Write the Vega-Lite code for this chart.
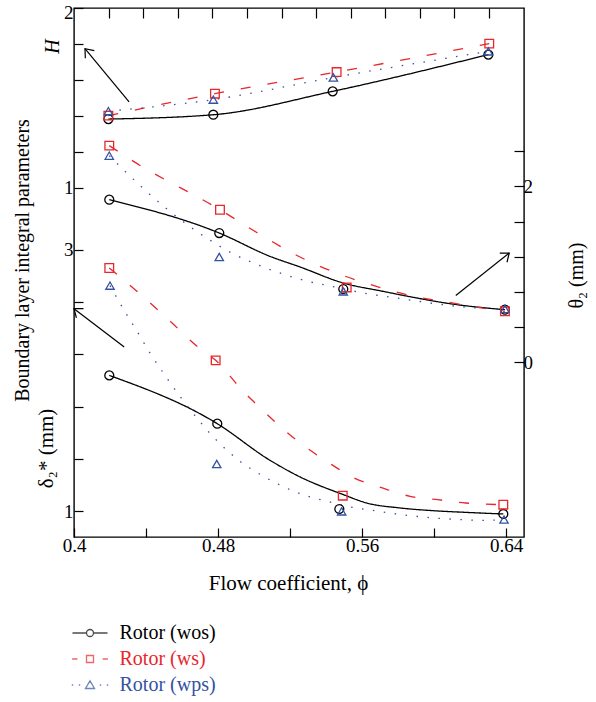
{
  "$schema": "https://vega.github.io/schema/vega-lite/v6.json",
  "width": 450,
  "height": 529,
  "autosize": "none",
  "padding": {"left": 74, "top": 8, "right": 72, "bottom": 165},
  "background": "white",
  "config": {
    "font": "Liberation Serif",
    "view": {"stroke": "#000000", "strokeWidth": 1.4},
    "axis": {"domain": false, "grid": false, "tickColor": "#000000", "tickWidth": 1.2, "labelColor": "#000000", "titleColor": "#000000", "labelFont": "Liberation Serif", "titleFont": "Liberation Serif", "labelFontSize": 19, "titleFontSize": 20, "titleFontWeight": "normal"},
    "legend": {"labelFont": "Liberation Serif"}
  },
  "datasets": {
    "pts": [
      {"p": "H", "s": "Rotor (wos)", "x": 0.4191, "y": 1.383},
      {"p": "H", "s": "Rotor (wos)", "x": 0.4774, "y": 1.407},
      {"p": "H", "s": "Rotor (wos)", "x": 0.5437, "y": 1.537},
      {"p": "H", "s": "Rotor (wos)", "x": 0.6302, "y": 1.741},
      {"p": "H", "s": "Rotor (ws)", "x": 0.4191, "y": 1.402},
      {"p": "H", "s": "Rotor (ws)", "x": 0.4783, "y": 1.524},
      {"p": "H", "s": "Rotor (ws)", "x": 0.5459, "y": 1.644},
      {"p": "H", "s": "Rotor (ws)", "x": 0.6307, "y": 1.802},
      {"p": "H", "s": "Rotor (wps)", "x": 0.4191, "y": 1.427},
      {"p": "H", "s": "Rotor (wps)", "x": 0.4774, "y": 1.491},
      {"p": "H", "s": "Rotor (wps)", "x": 0.5441, "y": 1.614},
      {"p": "H", "s": "Rotor (wps)", "x": 0.6302, "y": 1.759},
      {"p": "theta", "s": "Rotor (wos)", "x": 0.4196, "y": 1.849},
      {"p": "theta", "s": "Rotor (wos)", "x": 0.4807, "y": 1.470},
      {"p": "theta", "s": "Rotor (wos)", "x": 0.5496, "y": 0.834},
      {"p": "theta", "s": "Rotor (wos)", "x": 0.6394, "y": 0.599},
      {"p": "theta", "s": "Rotor (ws)", "x": 0.4196, "y": 2.463},
      {"p": "theta", "s": "Rotor (ws)", "x": 0.4811, "y": 1.735},
      {"p": "theta", "s": "Rotor (ws)", "x": 0.5515, "y": 0.852},
      {"p": "theta", "s": "Rotor (ws)", "x": 0.6394, "y": 0.580},
      {"p": "theta", "s": "Rotor (wps)", "x": 0.4196, "y": 2.349},
      {"p": "theta", "s": "Rotor (wps)", "x": 0.4807, "y": 1.198},
      {"p": "theta", "s": "Rotor (wps)", "x": 0.5496, "y": 0.807},
      {"p": "theta", "s": "Rotor (wps)", "x": 0.6394, "y": 0.607},
      {"p": "delta", "s": "Rotor (wos)", "x": 0.4196, "y": 2.039},
      {"p": "delta", "s": "Rotor (wos)", "x": 0.4796, "y": 1.670},
      {"p": "delta", "s": "Rotor (wos)", "x": 0.5474, "y": 1.018},
      {"p": "delta", "s": "Rotor (wos)", "x": 0.6385, "y": 0.980},
      {"p": "delta", "s": "Rotor (ws)", "x": 0.4196, "y": 2.860},
      {"p": "delta", "s": "Rotor (ws)", "x": 0.4787, "y": 2.154},
      {"p": "delta", "s": "Rotor (ws)", "x": 0.5493, "y": 1.120},
      {"p": "delta", "s": "Rotor (ws)", "x": 0.6385, "y": 1.051},
      {"p": "delta", "s": "Rotor (wps)", "x": 0.42, "y": 2.725},
      {"p": "delta", "s": "Rotor (wps)", "x": 0.4793, "y": 1.362},
      {"p": "delta", "s": "Rotor (wps)", "x": 0.5487, "y": 1.000},
      {"p": "delta", "s": "Rotor (wps)", "x": 0.6389, "y": 0.937}
    ],
    "curves": [
      {"p": "H", "s": "Rotor (wos)", "x": 0.4191, "y": 1.383},
      {"p": "H", "s": "Rotor (wos)", "x": 0.4774, "y": 1.407},
      {"p": "H", "s": "Rotor (wos)", "x": 0.5437, "y": 1.537},
      {"p": "H", "s": "Rotor (wos)", "x": 0.6302, "y": 1.741},
      {"p": "H", "s": "Rotor (ws)", "x": 0.4191, "y": 1.402},
      {"p": "H", "s": "Rotor (ws)", "x": 0.4783, "y": 1.524},
      {"p": "H", "s": "Rotor (ws)", "x": 0.5459, "y": 1.644},
      {"p": "H", "s": "Rotor (ws)", "x": 0.6307, "y": 1.802},
      {"p": "H", "s": "Rotor (wps)", "x": 0.4191, "y": 1.427},
      {"p": "H", "s": "Rotor (wps)", "x": 0.4774, "y": 1.491},
      {"p": "H", "s": "Rotor (wps)", "x": 0.5441, "y": 1.614},
      {"p": "H", "s": "Rotor (wps)", "x": 0.6302, "y": 1.759},
      {"p": "theta", "s": "Rotor (wos)", "x": 0.4196, "y": 1.849},
      {"p": "theta", "s": "Rotor (wos)", "x": 0.4807, "y": 1.470},
      {"p": "theta", "s": "Rotor (wos)", "x": 0.5089, "y": 1.205},
      {"p": "theta", "s": "Rotor (wos)", "x": 0.5256, "y": 1.084},
      {"p": "theta", "s": "Rotor (wos)", "x": 0.5496, "y": 0.902},
      {"p": "theta", "s": "Rotor (wos)", "x": 0.5718, "y": 0.807},
      {"p": "theta", "s": "Rotor (wos)", "x": 0.5904, "y": 0.732},
      {"p": "theta", "s": "Rotor (wos)", "x": 0.6089, "y": 0.667},
      {"p": "theta", "s": "Rotor (wos)", "x": 0.6394, "y": 0.599},
      {"p": "theta", "s": "Rotor (ws)", "x": 0.4196, "y": 2.463},
      {"p": "theta", "s": "Rotor (ws)", "x": 0.4333, "y": 2.281},
      {"p": "theta", "s": "Rotor (ws)", "x": 0.4811, "y": 1.735},
      {"p": "theta", "s": "Rotor (ws)", "x": 0.5011, "y": 1.482},
      {"p": "theta", "s": "Rotor (ws)", "x": 0.5267, "y": 1.186},
      {"p": "theta", "s": "Rotor (ws)", "x": 0.5444, "y": 1.027},
      {"p": "theta", "s": "Rotor (ws)", "x": 0.5600, "y": 0.914},
      {"p": "theta", "s": "Rotor (ws)", "x": 0.5756, "y": 0.820},
      {"p": "theta", "s": "Rotor (ws)", "x": 0.5911, "y": 0.741},
      {"p": "theta", "s": "Rotor (ws)", "x": 0.6067, "y": 0.688},
      {"p": "theta", "s": "Rotor (ws)", "x": 0.6211, "y": 0.636},
      {"p": "theta", "s": "Rotor (ws)", "x": 0.6394, "y": 0.580},
      {"p": "theta", "s": "Rotor (wps)", "x": 0.4196, "y": 2.349},
      {"p": "theta", "s": "Rotor (wps)", "x": 0.4261, "y": 2.216},
      {"p": "theta", "s": "Rotor (wps)", "x": 0.4382, "y": 1.982},
      {"p": "theta", "s": "Rotor (wps)", "x": 0.4506, "y": 1.761},
      {"p": "theta", "s": "Rotor (wps)", "x": 0.4629, "y": 1.565},
      {"p": "theta", "s": "Rotor (wps)", "x": 0.4752, "y": 1.394},
      {"p": "theta", "s": "Rotor (wps)", "x": 0.4876, "y": 1.243},
      {"p": "theta", "s": "Rotor (wps)", "x": 0.4996, "y": 1.130},
      {"p": "theta", "s": "Rotor (wps)", "x": 0.5057, "y": 1.080},
      {"p": "theta", "s": "Rotor (wps)", "x": 0.5302, "y": 0.920},
      {"p": "theta", "s": "Rotor (wps)", "x": 0.5432, "y": 0.864},
      {"p": "theta", "s": "Rotor (wps)", "x": 0.5607, "y": 0.789},
      {"p": "theta", "s": "Rotor (wps)", "x": 0.5793, "y": 0.732},
      {"p": "theta", "s": "Rotor (wps)", "x": 0.5978, "y": 0.675},
      {"p": "theta", "s": "Rotor (wps)", "x": 0.6163, "y": 0.630},
      {"p": "theta", "s": "Rotor (wps)", "x": 0.6394, "y": 0.607},
      {"p": "delta", "s": "Rotor (wos)", "x": 0.4196, "y": 2.039},
      {"p": "delta", "s": "Rotor (wos)", "x": 0.4796, "y": 1.670},
      {"p": "delta", "s": "Rotor (wos)", "x": 0.5089, "y": 1.390},
      {"p": "delta", "s": "Rotor (wos)", "x": 0.5256, "y": 1.263},
      {"p": "delta", "s": "Rotor (wos)", "x": 0.5496, "y": 1.128},
      {"p": "delta", "s": "Rotor (wos)", "x": 0.5626, "y": 1.064},
      {"p": "delta", "s": "Rotor (wos)", "x": 0.5811, "y": 1.026},
      {"p": "delta", "s": "Rotor (wos)", "x": 0.5996, "y": 1.005},
      {"p": "delta", "s": "Rotor (wos)", "x": 0.6182, "y": 0.992},
      {"p": "delta", "s": "Rotor (wos)", "x": 0.6385, "y": 0.980},
      {"p": "delta", "s": "Rotor (ws)", "x": 0.4196, "y": 2.860},
      {"p": "delta", "s": "Rotor (ws)", "x": 0.4385, "y": 2.639},
      {"p": "delta", "s": "Rotor (ws)", "x": 0.4539, "y": 2.447},
      {"p": "delta", "s": "Rotor (ws)", "x": 0.4694, "y": 2.249},
      {"p": "delta", "s": "Rotor (ws)", "x": 0.4787, "y": 2.154},
      {"p": "delta", "s": "Rotor (ws)", "x": 0.4944, "y": 1.912},
      {"p": "delta", "s": "Rotor (ws)", "x": 0.4996, "y": 1.841},
      {"p": "delta", "s": "Rotor (ws)", "x": 0.5256, "y": 1.523},
      {"p": "delta", "s": "Rotor (ws)", "x": 0.5413, "y": 1.374},
      {"p": "delta", "s": "Rotor (ws)", "x": 0.5557, "y": 1.255},
      {"p": "delta", "s": "Rotor (ws)", "x": 0.5713, "y": 1.179},
      {"p": "delta", "s": "Rotor (ws)", "x": 0.5867, "y": 1.115},
      {"p": "delta", "s": "Rotor (ws)", "x": 0.6021, "y": 1.089},
      {"p": "delta", "s": "Rotor (ws)", "x": 0.6176, "y": 1.064},
      {"p": "delta", "s": "Rotor (ws)", "x": 0.6385, "y": 1.051},
      {"p": "delta", "s": "Rotor (wps)", "x": 0.42, "y": 2.725},
      {"p": "delta", "s": "Rotor (wps)", "x": 0.4274, "y": 2.547},
      {"p": "delta", "s": "Rotor (wps)", "x": 0.4348, "y": 2.381},
      {"p": "delta", "s": "Rotor (wps)", "x": 0.4422, "y": 2.211},
      {"p": "delta", "s": "Rotor (wps)", "x": 0.4506, "y": 2.039},
      {"p": "delta", "s": "Rotor (wps)", "x": 0.4593, "y": 1.871},
      {"p": "delta", "s": "Rotor (wps)", "x": 0.4687, "y": 1.706},
      {"p": "delta", "s": "Rotor (wps)", "x": 0.4798, "y": 1.535},
      {"p": "delta", "s": "Rotor (wps)", "x": 0.4918, "y": 1.387},
      {"p": "delta", "s": "Rotor (wps)", "x": 0.5046, "y": 1.273},
      {"p": "delta", "s": "Rotor (wps)", "x": 0.5289, "y": 1.120},
      {"p": "delta", "s": "Rotor (wps)", "x": 0.5409, "y": 1.076},
      {"p": "delta", "s": "Rotor (wps)", "x": 0.5533, "y": 1.034},
      {"p": "delta", "s": "Rotor (wps)", "x": 0.5656, "y": 1.008},
      {"p": "delta", "s": "Rotor (wps)", "x": 0.5779, "y": 0.982},
      {"p": "delta", "s": "Rotor (wps)", "x": 0.5902, "y": 0.962},
      {"p": "delta", "s": "Rotor (wps)", "x": 0.6024, "y": 0.947},
      {"p": "delta", "s": "Rotor (wps)", "x": 0.6148, "y": 0.937},
      {"p": "delta", "s": "Rotor (wps)", "x": 0.6271, "y": 0.931},
      {"p": "delta", "s": "Rotor (wps)", "x": 0.6389, "y": 0.937}
    ],
    "arrows": [
      {"p": "H", "x": 0.4061, "y": 1.774, "x2": 0.4306, "y2": 1.479},
      {"p": "theta", "x": 0.6418, "y": 1.243, "x2": 0.6121, "y2": 0.761},
      {"p": "delta", "x": 0.4, "y": 2.549, "x2": 0.4279, "y2": 2.256}
    ]
  },
  "layer": [
    {
      "encoding": {
        "x": {"field": "x", "type": "quantitative", "scale": {"domain": [0.4, 0.65], "nice": false, "zero": false}, "axis": null},
        "y": {"field": "y", "type": "quantitative", "scale": {"domain": [-0.939, 2], "nice": false, "zero": false},
          "axis": {"orient": "left", "values": [1, 1.2, 1.4, 1.6, 1.8, 2], "labelExpr": "datum.value == 1 ? '1' : datum.value == 2 ? '2' : ''", "tickSize": -9, "labelPadding": 10, "labelOverlap": false, "labelFlush": true, "labelFlushOffset": 5, "title": "H", "titleFontStyle": "italic", "titleAngle": -90, "titleX": -22, "titleY": 38, "titleAlign": "center", "titleBaseline": "middle"}}
      },
      "layer": [
        {"data": {"name": "curves"}, "transform": [{"filter": "datum.p == 'H'"}],
          "mark": {"type": "line", "interpolate": "monotone", "strokeWidth": 1.3},
          "encoding": {
            "color": {"field": "s", "type": "nominal", "scale": {"domain": ["Rotor (wos)", "Rotor (ws)", "Rotor (wps)"], "range": ["#000000", "#e8262b", "#3352a4"]}, "legend": null},
            "strokeDash": {"field": "s", "type": "nominal", "scale": {"domain": ["Rotor (wos)", "Rotor (ws)", "Rotor (wps)"], "range": [[1, 0], [10, 17], [1.5, 9.5]]}, "legend": null}
          }},
        {"data": {"name": "pts"}, "transform": [{"filter": "datum.p == 'H'"}],
          "mark": {"type": "point", "filled": false, "strokeWidth": 1.3, "opacity": 1},
          "encoding": {
            "color": {"field": "s", "type": "nominal", "scale": {"domain": ["Rotor (wos)", "Rotor (ws)", "Rotor (wps)"], "range": ["#000000", "#e8262b", "#3352a4"]}, "legend": null},
            "shape": {"field": "s", "type": "nominal", "scale": {"domain": ["Rotor (wos)", "Rotor (ws)", "Rotor (wps)"], "range": ["circle", "square", "triangle-up"]}, "legend": null},
            "size": {"field": "s", "type": "nominal", "scale": {"domain": ["Rotor (wos)", "Rotor (ws)", "Rotor (wps)"], "range": [80, 70, 132]}, "legend": null}
          }},
        {"data": {"name": "arrows"}, "transform": [{"filter": "datum.p == 'H'"}],
          "mark": {"type": "rule", "color": "#000000", "strokeWidth": 1.2},
          "encoding": {"x2": {"field": "x2"}, "y2": {"field": "y2"}}},
        {"data": {"name": "arrows"}, "transform": [{"filter": "datum.p == 'H'"}],
          "mark": {"type": "point", "shape": "M-0.78,1L0,0L0.78,1", "size": 225, "angle": -40.2, "filled": false, "color": "#000000", "strokeWidth": 1.2, "opacity": 1},
          "encoding": {}}
      ]
    },
    {
      "encoding": {
        "x": {"field": "x", "type": "quantitative", "scale": {"domain": [0.4, 0.65], "nice": false, "zero": false}, "axis": null},
        "y": {"field": "y", "type": "quantitative", "scale": {"domain": [-1.984, 4.027], "nice": false, "zero": false},
          "axis": {"orient": "right", "values": [0, 0.4, 0.8, 1.2, 1.6, 2, 2.4], "labelExpr": "datum.value == 0 ? '0' : datum.value == 2 ? '2' : ''", "tickSize": -10, "labelPadding": 9, "labelOverlap": false, "labelFlush": false, "title": "θ₂ (mm)", "titleAngle": -90, "titleX": 52, "titleY": 267, "titleAlign": "center", "titleBaseline": "middle"}}
      },
      "layer": [
        {"data": {"name": "curves"}, "transform": [{"filter": "datum.p == 'theta'"}],
          "mark": {"type": "line", "interpolate": "monotone", "strokeWidth": 1.3},
          "encoding": {
            "color": {"field": "s", "type": "nominal", "scale": {"domain": ["Rotor (wos)", "Rotor (ws)", "Rotor (wps)"], "range": ["#000000", "#e8262b", "#3352a4"]}, "legend": null},
            "strokeDash": {"field": "s", "type": "nominal", "scale": {"domain": ["Rotor (wos)", "Rotor (ws)", "Rotor (wps)"], "range": [[1, 0], [10, 17], [1.5, 9.5]]}, "legend": null}
          }},
        {"data": {"name": "pts"}, "transform": [{"filter": "datum.p == 'theta'"}],
          "mark": {"type": "point", "filled": false, "strokeWidth": 1.3, "opacity": 1},
          "encoding": {
            "color": {"field": "s", "type": "nominal", "scale": {"domain": ["Rotor (wos)", "Rotor (ws)", "Rotor (wps)"], "range": ["#000000", "#e8262b", "#3352a4"]}, "legend": null},
            "shape": {"field": "s", "type": "nominal", "scale": {"domain": ["Rotor (wos)", "Rotor (ws)", "Rotor (wps)"], "range": ["circle", "square", "triangle-up"]}, "legend": null},
            "size": {"field": "s", "type": "nominal", "scale": {"domain": ["Rotor (wos)", "Rotor (ws)", "Rotor (wps)"], "range": [80, 70, 132]}, "legend": null}
          }},
        {"data": {"name": "arrows"}, "transform": [{"filter": "datum.p == 'theta'"}],
          "mark": {"type": "rule", "color": "#000000", "strokeWidth": 1.2},
          "encoding": {"x2": {"field": "x2"}, "y2": {"field": "y2"}}},
        {"data": {"name": "arrows"}, "transform": [{"filter": "datum.p == 'theta'"}],
          "mark": {"type": "point", "shape": "M-0.78,1L0,0L0.78,1", "size": 225, "angle": 51.6, "filled": false, "color": "#000000", "strokeWidth": 1.2, "opacity": 1},
          "encoding": {}}
      ]
    },
    {
      "encoding": {
        "x": {"field": "x", "type": "quantitative", "scale": {"domain": [0.4, 0.65], "nice": false, "zero": false},
          "axis": {"orient": "bottom", "values": [0.4, 0.44, 0.48, 0.52, 0.56, 0.6, 0.64], "labelExpr": "datum.value == 0.4 ? '0.4' : datum.value == 0.48 ? '0.48' : datum.value == 0.56 ? '0.56' : datum.value == 0.64 ? '0.64' : ''", "tickSize": -9, "labelPadding": 8, "labelFlush": false, "labelOverlap": false, "title": "Flow coefficient, ϕ", "titleFontSize": 21, "titleX": 214, "titleY": 46, "titleAlign": "center", "titleBaseline": "middle"}},
        "y": {"field": "y", "type": "quantitative", "scale": {"domain": [0.804, 4.847], "nice": false, "zero": false},
          "axis": {"orient": "left", "values": [1, 1.4, 1.8, 2.2, 2.6, 3], "labelExpr": "datum.value == 1 ? '1' : datum.value == 3 ? '3' : ''", "tickSize": -9, "labelPadding": 10, "labelOverlap": false, "labelFlush": false, "title": "δ₂* (mm)", "titleFontSize": 21, "titleAngle": -90, "titleX": -28, "titleY": 440, "titleAlign": "center", "titleBaseline": "middle"}}
      },
      "layer": [
        {"data": {"name": "curves"}, "transform": [{"filter": "datum.p == 'delta'"}],
          "mark": {"type": "line", "interpolate": "monotone", "strokeWidth": 1.3},
          "encoding": {
            "color": {"field": "s", "type": "nominal", "scale": {"domain": ["Rotor (wos)", "Rotor (ws)", "Rotor (wps)"], "range": ["#000000", "#e8262b", "#3352a4"]}, "legend": null},
            "strokeDash": {"field": "s", "type": "nominal", "scale": {"domain": ["Rotor (wos)", "Rotor (ws)", "Rotor (wps)"], "range": [[1, 0], [10, 17], [1.5, 9.5]]}, "legend": null}
          }},
        {"data": {"name": "pts"}, "transform": [{"filter": "datum.p == 'delta'"}],
          "mark": {"type": "point", "filled": false, "strokeWidth": 1.3, "opacity": 1},
          "encoding": {
            "color": {"field": "s", "type": "nominal", "scale": {"domain": ["Rotor (wos)", "Rotor (ws)", "Rotor (wps)"], "range": ["#000000", "#e8262b", "#3352a4"]}, "legend": null},
            "shape": {"field": "s", "type": "nominal", "scale": {"domain": ["Rotor (wos)", "Rotor (ws)", "Rotor (wps)"], "range": ["circle", "square", "triangle-up"]}, "legend": null},
            "size": {"field": "s", "type": "nominal", "scale": {"domain": ["Rotor (wos)", "Rotor (ws)", "Rotor (wps)"], "range": [80, 70, 132]}, "legend": null}
          }},
        {"data": {"name": "arrows"}, "transform": [{"filter": "datum.p == 'delta'"}],
          "mark": {"type": "rule", "color": "#000000", "strokeWidth": 1.2},
          "encoding": {"x2": {"field": "x2"}, "y2": {"field": "y2"}}},
        {"data": {"name": "arrows"}, "transform": [{"filter": "datum.p == 'delta'"}],
          "mark": {"type": "point", "shape": "M-0.78,1L0,0L0.78,1", "size": 225, "angle": -52.7, "filled": false, "color": "#000000", "strokeWidth": 1.2, "opacity": 1},
          "encoding": {}}
      ]
    },
    {
      "data": {"name": "pts"},
      "transform": [{"filter": "datum.p == 'H'"}],
      "mark": {"type": "point", "filled": false, "clip": true, "strokeWidth": 1.3},
      "encoding": {
        "x": {"field": "x", "type": "quantitative", "scale": {"domain": [0.4, 0.65], "nice": false, "zero": false},
          "axis": {"orient": "top", "values": [0.41944, 0.4385, 0.45761, 0.47683, 0.49594, 0.51539, 0.53444, 0.55372, 0.57294, 0.59222, 0.61128, 0.63039], "labels": false, "tickSize": -10, "title": null}},
        "y": {"field": "y", "type": "quantitative", "scale": {"domain": [10, 11], "nice": false, "zero": false},
          "axis": {"orient": "left", "ticks": false, "labels": false, "title": "Boundary layer integral parameters", "titleAngle": -90, "titleX": -52, "titleY": 252, "titleAlign": "center", "titleBaseline": "middle"}},
        "color": {"field": "s", "type": "nominal", "scale": {"domain": ["Rotor (wos)", "Rotor (ws)", "Rotor (wps)"], "range": ["#000000", "#e8262b", "#3352a4"]},
          "legend": {"orient": "none", "legendX": 6, "legendY": 615, "title": null, "padding": 0, "labelFont": "Liberation Serif", "labelFontSize": 20, "labelOffset": 19.5, "symbolSize": 49, "symbolStrokeWidth": 1.3, "symbolFillColor": "transparent", "rowPadding": 6, "labelColor": {"expr": "datum.label == 'Rotor (ws)' ? '#e8262b' : datum.label == 'Rotor (wps)' ? '#3352a4' : '#000000'"}}},
        "shape": {"field": "s", "type": "nominal", "scale": {"domain": ["Rotor (wos)", "Rotor (ws)", "Rotor (wps)"], "range": ["M-5,0L-1,0M1,0A1,1,0,1,1,-1,0A1,1,0,1,1,1,0M1,0L5,0", "M-5.1,0L-3.6,0M-1,-1L1,-1L1,1L-1,1ZM3.6,0L5.1,0", "M-5.2,0L-4.8,0M-3.2,0L-2.8,0M0,-1.2L1.3,1L-1.3,1ZM2.8,0L3.2,0M4.8,0L5.2,0"]},
          "legend": {"orient": "none", "legendX": 6, "legendY": 615, "title": null, "padding": 0, "labelFont": "Liberation Serif", "labelFontSize": 20, "labelOffset": 19.5, "symbolSize": 49, "symbolStrokeWidth": 1.3, "symbolFillColor": "transparent", "rowPadding": 6, "labelColor": {"expr": "datum.label == 'Rotor (ws)' ? '#e8262b' : datum.label == 'Rotor (wps)' ? '#3352a4' : '#000000'"}}}
      }
    }
  ],
  "resolve": {
    "scale": {"x": "independent", "y": "independent", "color": "independent", "shape": "independent", "strokeDash": "independent", "size": "independent"},
    "axis": {"x": "independent", "y": "independent"}
  }
}
